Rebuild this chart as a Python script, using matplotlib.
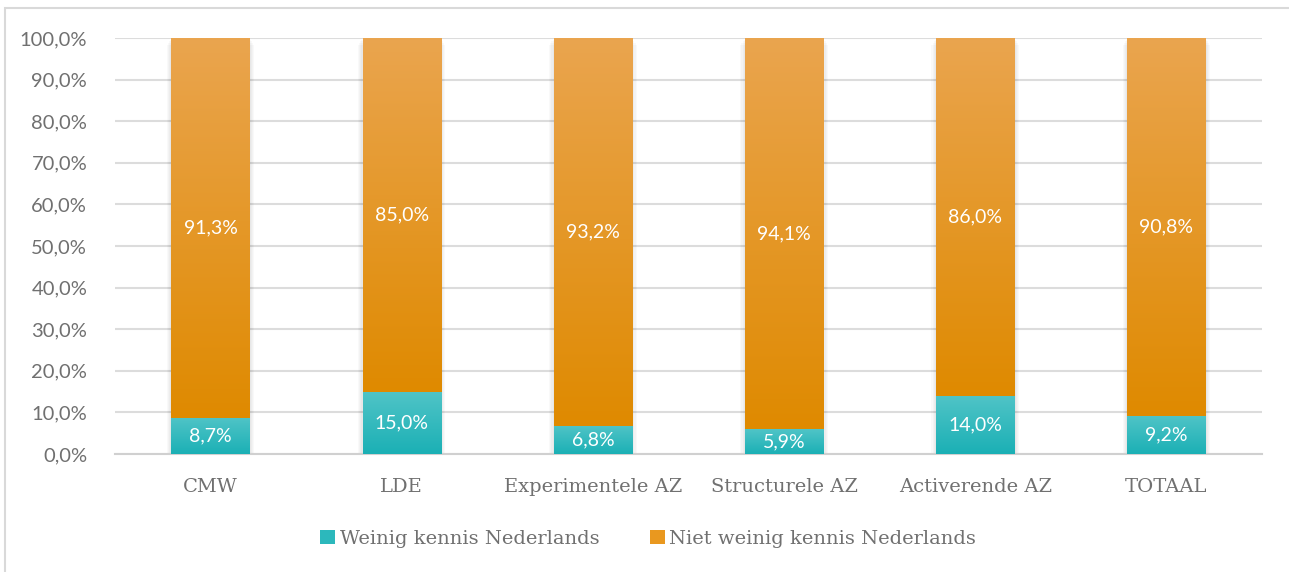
import matplotlib.pyplot as plt
import numpy as np
from matplotlib.patches import Patch, Rectangle
from matplotlib.colors import LinearSegmentedColormap

# data
categories = ['CMW', 'LDE', 'Experimentele AZ', 'Structurele AZ', 'Activerende AZ', 'TOTAAL']
weinig = [8.7, 15.0, 6.8, 5.9, 14.0, 9.2]
niet_weinig = [91.3, 85.0, 93.2, 94.1, 86.0, 90.8]
series_names = ['Weinig kennis Nederlands', 'Niet weinig kennis Nederlands']

GREY = '#707070'
teal_cmap = LinearSegmentedColormap.from_list('teal', ['#1bb0b5', '#50c4c7'])
orange_cmap = LinearSegmentedColormap.from_list('orange', ['#df8a00', '#eaa54f'])


def pct(v):
    return f'{v:.1f}%'.replace('.', ',')


def gradient_bar(ax, x, bottom, height, width, cmap, z=3):
    grad = np.linspace(0, 1, 256).reshape(-1, 1)
    x0, x1 = x - width / 2, x + width / 2
    ax.imshow(grad, extent=[x0, x1, bottom, bottom + height], origin='lower',
              aspect='auto', cmap=cmap, zorder=z, interpolation='bilinear')


def shadow(ax, x, width, top, z=2):
    # soft, symmetric glow-like shadow round the bar
    for k in range(1, 5):
        off = 0.006 * k
        ax.add_patch(Rectangle((x - width / 2 - off, -0.6 * k), width + 2 * off, top + 0.2 * k,
                               facecolor='black', alpha=0.025, lw=0, zorder=z))


fig = plt.figure(figsize=(12.89, 5.72), dpi=100)
ax = fig.add_axes([0.0892, 0.2063, 0.8898, 0.7273])

x = np.arange(len(categories))
w = 0.41
for i in x:
    shadow(ax, i, w, weinig[i] + niet_weinig[i])
    gradient_bar(ax, i, 0, weinig[i], w, teal_cmap)
    gradient_bar(ax, i, weinig[i], niet_weinig[i], w, orange_cmap)
    ax.text(i, weinig[i] / 2, pct(weinig[i]), ha='center', va='center',
            color='white', fontsize=14, family='Lato', zorder=5)
    ax.text(i, weinig[i] + niet_weinig[i] / 2, pct(niet_weinig[i]), ha='center',
            va='center', color='white', fontsize=14, family='Lato', zorder=5)

ax.set_xlim(-0.5, len(categories) - 0.5)
ax.set_ylim(0, 100)
ax.set_yticks(np.arange(0, 101, 10))
ax.set_yticklabels([pct(v) for v in np.arange(0, 101, 10)], family='Lato',
                   fontsize=14.5, color=GREY)
ax.set_xticks(x)
ax.set_xticklabels(categories, family='DejaVu Serif', fontsize=14, color=GREY)
ax.tick_params(axis='both', length=0)
ax.tick_params(axis='x', pad=17)
ax.tick_params(axis='y', pad=20)
ax.grid(axis='y', color='#dcdcdc', lw=1.5, zorder=0)
ax.set_axisbelow(True)
for s in ['top', 'right', 'left']:
    ax.spines[s].set_visible(False)
ax.spines['bottom'].set_color('#d0d0d0')
ax.spines['bottom'].set_linewidth(1.5)

handles = [Patch(facecolor='#2cb8bc', edgecolor='none'),
           Patch(facecolor='#e9981f', edgecolor='none')]
fig.legend(handles, series_names, loc='center', bbox_to_anchor=(0.503, 0.058), ncol=2,
           frameon=False, handlelength=0.75, handleheight=0.75, handletextpad=0.25,
           columnspacing=2.6, prop={'family': 'DejaVu Serif', 'size': 14},
           labelcolor=GREY)

# outer border
fig.patches.append(Rectangle((5 / 1289, -0.01), 1.05, 1 - 8 / 572 + 0.01,
                             transform=fig.transFigure, fill=False,
                             edgecolor='#d9d9d9', lw=1.5))

fig.savefig('out.png', dpi=100)
